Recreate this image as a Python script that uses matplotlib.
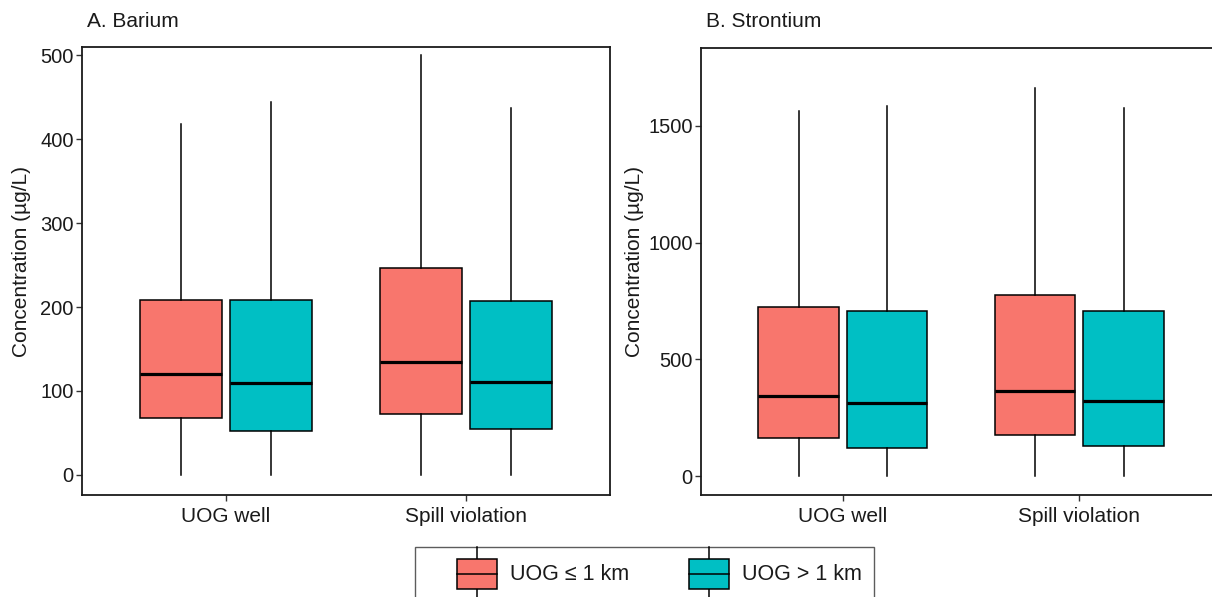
import matplotlib
matplotlib.use("Agg")
import matplotlib.pyplot as plt
import matplotlib.patches as mpatches
from matplotlib.lines import Line2D
from matplotlib.legend_handler import HandlerBase

plt.rcParams["font.family"] = ["Liberation Sans", "DejaVu Sans"]
plt.rcParams["font.size"] = 15

W, H = 1212, 597  # target size in pixels

# categories and groups
categories = ["UOG well", "Spill violation"]
groups = ["UOG \u2264 1 km", "UOG > 1 km"]
colors = ["#F8766D", "#00BFC4"]

# Barium (ug/L): [whislo, q1, median, q3, whishi] for each category, per group
barium_near = [[0, 68, 120, 209, 418], [0, 73, 134, 246, 501]]
barium_far = [[0, 52, 109, 209, 444], [0, 55, 111, 207, 437]]

# Strontium (ug/L)
strontium_near = [[0, 163, 344, 726, 1564], [0, 176, 365, 775, 1663]]
strontium_far = [[0, 120, 314, 709, 1586], [0, 129, 322, 709, 1577]]

panels = [
    ("A. Barium", barium_near, barium_far, (-24, 510), [0, 100, 200, 300, 400, 500]),
    ("B. Strontium", strontium_near, strontium_far, (-81, 1834), [0, 500, 1000, 1500]),
]

# axes placement in pixels: left, top, right, bottom
boxes_px = [(82, 47, 610, 495), (701, 48, 1221, 495)]
ylabel_x = [-0.097, -0.109]

fig = plt.figure(figsize=(W / 100, H / 100), dpi=100)


def to_stats(vals):
    lo, q1, med, q3, hi = vals
    return dict(whislo=lo, q1=q1, med=med, q3=q3, whishi=hi, fliers=[])


for (title, near, far, ylim, yticks), (l, t, r, b), lx in zip(panels, boxes_px, ylabel_x):
    ax = fig.add_axes([l / W, 1 - b / H, (r - l) / W, (b - t) / H])
    xs = list(range(1, len(categories) + 1))
    for series, col, off in [(near, colors[0], -0.1875), (far, colors[1], 0.1875)]:
        stats = [to_stats(v) for v in series]
        ax.bxp(stats, positions=[x + off for x in xs], widths=0.34,
               patch_artist=True, showfliers=False, showcaps=False,
               boxprops=dict(facecolor=col, edgecolor="black", linewidth=1.1),
               medianprops=dict(color="black", linewidth=2.3),
               whiskerprops=dict(color="black", linewidth=1.1),
               manage_ticks=False)
    ax.set_xlim(0.4, len(categories) + 0.6)
    ax.set_ylim(*ylim)
    ax.set_xticks(xs)
    ax.set_xticklabels(categories)
    ax.set_yticks(yticks)
    ax.tick_params(length=4, width=1, pad=2, color="#333333", labelcolor="#1a1a1a", labelsize=15)
    ax.tick_params(axis="y", labelsize=14.5)
    ax.tick_params(axis="x", pad=5)
    for s in ax.spines.values():
        s.set_linewidth(1.3)
        s.set_color("#1a1a1a")
    ax.set_ylabel("Concentration (\u00b5g/L)", fontsize=15, color="#1a1a1a")
    ax.yaxis.set_label_coords(lx, 0.522)
    ax.text(l / W + 5 / W, 1 - 27 / H, title, transform=fig.transFigure,
            fontsize=15, color="#1a1a1a", ha="left", va="baseline")


class BoxKey(HandlerBase):
    # legend key drawn as a small boxplot glyph (sizes in points)
    def create_artists(self, legend, orig_handle, xdescent, ydescent, width, height, fontsize, trans):
        bw, bh, gap, stub = 29, 21.6, 4.7, 8.6
        x0 = -xdescent + width - bw
        ytop = height - gap
        y0 = ytop - bh
        rect = mpatches.Rectangle((x0, y0), bw, bh, facecolor=orig_handle.get_facecolor(),
                                  edgecolor="black", linewidth=1.1, transform=trans)
        xm = x0 + bw / 2
        med = Line2D([x0, x0 + bw], [y0 + bh / 2] * 2, color="black", linewidth=1.1, transform=trans)
        up = Line2D([xm, xm], [ytop, ytop + stub], color="black", linewidth=1.1, transform=trans)
        dn = Line2D([xm, xm], [y0 - stub, y0], color="black", linewidth=1.1, transform=trans)
        return [up, dn, rect, med]


handles = [mpatches.Patch(facecolor=c) for c in colors]
leg = fig.legend(handles, groups, handler_map={mpatches.Patch: BoxKey()},
                 loc="upper left", bbox_to_anchor=(415 / W, 1 - 547 / H),
                 bbox_transform=fig.transFigure, borderaxespad=0, ncol=2,
                 fontsize=15.5, frameon=True, fancybox=False, borderpad=0.56,
                 handlelength=3.25, handleheight=1.58, handletextpad=0.6,
                 columnspacing=1.4)
leg.get_frame().set_edgecolor("#333333")
leg.get_frame().set_linewidth(1.0)
for txt in leg.get_texts():
    txt.set_color("#1a1a1a")

fig.savefig("out.png", dpi=100)
